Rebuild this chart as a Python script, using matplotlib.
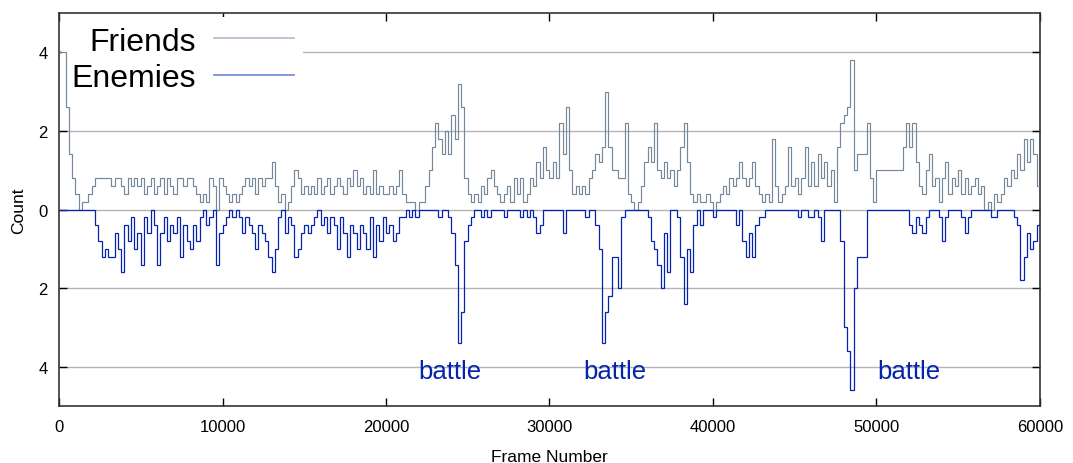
import matplotlib
matplotlib.use("Agg")
import matplotlib.pyplot as plt
from matplotlib.lines import Line2D
import numpy as np

plt.rcParams['font.family'] = ['Liberation Sans', 'DejaVu Sans']

# one value per 200 frames
frame_step = 200
n_frames = 60000

friends = [
    4.0, 4.0, 2.6, 1.4, 0.8, 0.4, 0.0, 0.2, 0.2, 0.4, 0.6, 0.8, 0.8, 0.8, 0.8, 0.8, 0.6, 0.8, 0.8, 0.6, 0.4, 0.8, 0.6, 0.8, 0.6,
    0.8, 0.4, 0.6, 0.8, 0.4, 0.6, 0.8, 0.4, 0.8, 0.6, 0.4, 0.8, 0.8, 0.6, 0.8, 0.8, 0.6, 0.4, 0.2, 0.4, 0.2, 0.8, 0.6, 0.0, 0.8,
    0.6, 0.4, 0.2, 0.4, 0.2, 0.4, 0.6, 0.8, 0.6, 0.8, 0.4, 0.8, 0.6, 0.8, 0.8, 1.2, 0.6, 0.2, 0.4, 0.0, 0.2, 0.6, 1.0, 0.8, 0.4,
    0.6, 0.4, 0.6, 0.4, 0.8, 0.4, 0.6, 0.8, 0.4, 0.6, 0.8, 0.6, 0.4, 0.8, 0.6, 1.0, 0.6, 0.8, 0.4, 0.6, 0.4, 1.0, 0.4, 0.6, 0.4,
    0.4, 0.6, 0.4, 0.6, 1.0, 0.4, 0.2, 0.2, 0.2, 0.0, 0.2, 0.2, 0.6, 1.0, 1.6, 2.2, 1.8, 1.4, 2.0, 1.4, 2.4, 1.8, 3.2, 2.6, 0.8,
    0.4, 0.2, 0.4, 0.2, 0.6, 0.4, 0.8, 1.0, 0.6, 0.4, 0.2, 0.4, 0.6, 0.2, 0.8, 0.4, 0.8, 0.2, 0.4, 0.8, 0.6, 1.2, 0.8, 1.6, 1.0,
    0.8, 1.2, 0.8, 2.2, 1.4, 2.6, 1.0, 0.4, 0.6, 0.4, 0.6, 0.4, 0.8, 1.0, 1.4, 1.2, 1.6, 3.0, 1.6, 1.0, 1.0, 0.8, 0.8, 2.2, 0.4,
    0.2, 0.0, 0.2, 0.6, 1.2, 1.6, 1.2, 2.2, 1.0, 0.8, 1.2, 0.8, 1.0, 0.6, 1.0, 1.6, 2.2, 1.2, 0.4, 0.2, 0.4, 0.2, 0.2, 0.4, 0.2,
    0.0, 0.2, 0.4, 0.6, 0.4, 0.8, 0.6, 0.8, 1.2, 0.8, 0.6, 0.8, 1.2, 0.6, 0.4, 0.2, 0.4, 0.2, 1.8, 0.6, 0.2, 0.4, 0.6, 1.6, 0.6,
    0.8, 0.4, 0.8, 1.6, 0.6, 1.2, 0.6, 1.4, 0.8, 1.2, 0.6, 1.0, 0.2, 1.6, 2.2, 2.4, 2.6, 3.8, 1.0, 1.4, 1.4, 1.4, 2.2, 0.8, 0.2,
    1.0, 1.0, 1.0, 1.0, 1.0, 1.0, 1.0, 1.0, 1.6, 2.2, 1.6, 2.2, 1.2, 0.6, 0.4, 1.0, 1.4, 0.6, 0.8, 0.2, 0.8, 1.2, 0.4, 0.8, 0.6,
    1.0, 0.4, 0.8, 0.4, 0.6, 0.8, 0.4, 0.6, 0.0, 0.2, 0.0, 0.4, 0.2, 0.4, 0.8, 0.6, 1.0, 0.8, 1.4, 1.0, 1.8, 1.2, 1.8, 1.4, 0.6,
]

enemies = [
    0.0, 0.0, 0.0, 0.0, 0.0, 0.0, 0.0, 0.0, 0.0, 0.0, 0.0, 0.4, 0.8, 1.2, 1.0, 1.2, 1.2, 0.6, 1.0, 1.6, 0.4, 0.8, 0.2, 1.0, 0.6,
    1.4, 0.2, 0.6, 0.0, 0.4, 1.4, 0.6, 0.2, 0.8, 0.4, 0.6, 0.2, 1.2, 0.4, 0.8, 1.0, 0.4, 0.8, 0.2, 0.0, 0.4, 0.2, 0.0, 1.4, 0.6,
    0.4, 0.2, 0.0, 0.2, 0.0, 0.2, 0.6, 0.2, 0.4, 0.6, 1.0, 0.4, 0.6, 0.8, 1.2, 1.6, 1.0, 0.2, 0.0, 0.6, 0.2, 0.4, 1.2, 1.0, 0.6,
    0.4, 0.6, 0.4, 0.2, 0.0, 0.4, 0.2, 0.6, 0.2, 0.4, 1.0, 0.2, 0.6, 1.2, 0.4, 0.6, 1.0, 0.4, 0.6, 1.0, 0.2, 1.2, 0.4, 0.8, 0.2,
    0.6, 0.4, 0.8, 0.6, 0.2, 0.2, 0.0, 0.2, 0.0, 0.2, 0.0, 0.0, 0.0, 0.0, 0.0, 0.0, 0.2, 0.0, 0.0, 0.2, 0.6, 1.4, 3.4, 2.6, 0.8,
    0.4, 0.2, 0.0, 0.0, 0.2, 0.0, 0.2, 0.0, 0.0, 0.0, 0.0, 0.2, 0.0, 0.0, 0.0, 0.0, 0.2, 0.0, 0.2, 0.0, 0.2, 0.6, 0.4, 0.0, 0.0,
    0.0, 0.0, 0.0, 0.0, 0.6, 0.0, 0.0, 0.0, 0.0, 0.0, 0.0, 0.2, 0.0, 0.0, 0.4, 1.0, 3.4, 2.6, 2.2, 1.2, 1.2, 2.0, 0.2, 0.0, 0.0,
    0.0, 0.0, 0.0, 0.0, 0.0, 0.2, 0.8, 1.0, 1.4, 2.0, 0.6, 1.6, 0.0, 0.0, 0.2, 1.2, 2.4, 1.0, 1.6, 0.4, 0.0, 0.4, 0.0, 0.0, 0.0,
    0.2, 0.0, 0.0, 0.0, 0.0, 0.0, 0.0, 0.4, 0.0, 0.8, 1.2, 0.6, 1.2, 0.4, 0.2, 0.2, 0.0, 0.0, 0.0, 0.0, 0.0, 0.0, 0.0, 0.0, 0.0,
    0.0, 0.2, 0.0, 0.0, 0.2, 0.2, 0.0, 0.2, 0.8, 0.0, 0.0, 0.0, 0.0, 0.0, 0.8, 3.0, 3.6, 4.6, 2.0, 1.2, 1.2, 1.2, 0.0, 0.0, 0.0,
    0.0, 0.0, 0.0, 0.0, 0.0, 0.0, 0.0, 0.0, 0.0, 0.0, 0.4, 0.6, 0.2, 0.4, 0.6, 0.2, 0.0, 0.0, 0.0, 0.2, 0.8, 0.2, 0.0, 0.0, 0.0,
    0.0, 0.2, 0.6, 0.2, 0.0, 0.0, 0.0, 0.0, 0.0, 0.0, 0.2, 0.2, 0.0, 0.0, 0.0, 0.0, 0.0, 0.2, 0.4, 1.8, 1.2, 0.6, 1.0, 0.8, 0.4,
]

battle_frames = [23900, 34000, 52000]
battle_label = "battle"
y_ticks = [-4, -2, 0, 2, 4]
y_tick_labels = ["4", "2", "0", "2", "4"]
x_ticks = [0, 10000, 20000, 30000, 40000, 50000, 60000]

friend_color = '#75879a'
enemy_color = '#0424ad'

edges = np.arange(0, n_frames + frame_step, frame_step)

fig = plt.figure(figsize=(10.73, 4.64), dpi=100)
ax = fig.add_axes([0.055, 0.1228, 0.9142, 0.847])

ax.stairs(np.array(friends), edges, baseline=None, color=friend_color, linewidth=0.85, zorder=3)
ax.stairs(-np.array(enemies), edges, baseline=None, color=enemy_color, linewidth=0.9, zorder=4)

for f in battle_frames:
    ax.text(f, -4.28, battle_label, color=enemy_color, fontsize=18.5, ha='center', va='baseline', zorder=5)

ax.set_xlim(0, n_frames)
ax.set_ylim(-5, 5)
ax.set_xticks(x_ticks)
ax.set_xticklabels([str(t) for t in x_ticks])
ax.set_yticks(y_ticks)
ax.set_yticklabels(y_tick_labels)
ax.tick_params(direction='in', length=6, width=1, labelsize=12, top=True, right=True)
ax.tick_params(axis='x', pad=9)
ax.tick_params(axis='y', pad=8)
ax.grid(axis='y', color='#b4b4b4', linewidth=1.0, zorder=0)
ax.set_axisbelow(True)
for s in ax.spines.values():
    s.set_linewidth(1.2)
    s.set_color('#333333')

ax.set_xlabel('Frame Number', fontsize=12.5, labelpad=11)
ax.set_ylabel('Count', fontsize=12.5, labelpad=9)

handles = [Line2D([], [], color='#b0bcc8', linewidth=1.2),
           Line2D([], [], color='#6f86d6', linewidth=1.2)]
leg = ax.legend(handles, ['Friends', 'Enemies'], loc='upper right', bbox_to_anchor=(0.249, 0.99),
                markerfirst=False, fontsize=23, frameon=True, fancybox=False, framealpha=1.0,
                edgecolor='none', facecolor='white', borderpad=0.3, borderaxespad=0.0,
                handlelength=2.5, handletextpad=0.56, labelspacing=0.2)
# box hides the grid but sits under the data lines
leg.set_zorder(2.5)

fig.savefig('out.png', dpi=100)
